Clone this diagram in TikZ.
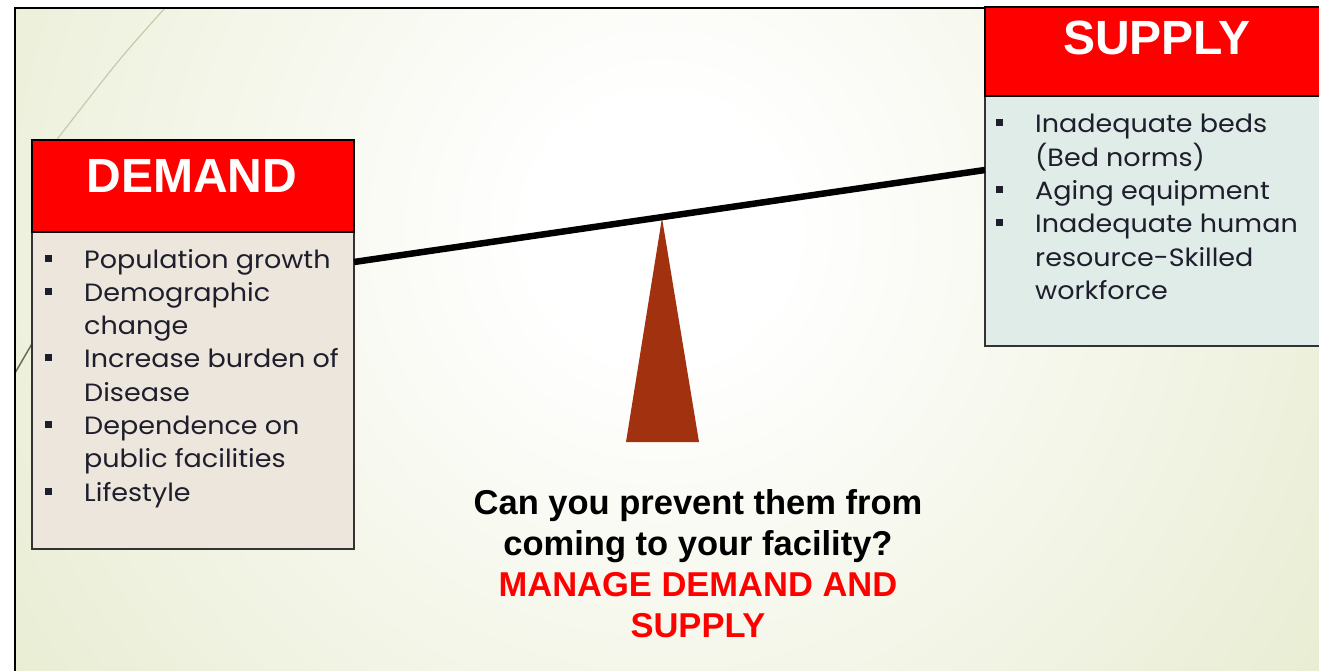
\documentclass[tikz,border=0pt]{standalone}
\usepackage{fontspec}
\setmainfont{Liberation Sans}
\newfontfamily\bodyfont[FakeStretch=1.08]{Poppins}
\usepackage{array}
\definecolor{bggreen}{HTML}{E0E6C2}
\definecolor{demandbody}{HTML}{EDE6DC}
\definecolor{supplybody}{HTML}{E0ECE7}
\definecolor{fulcrum}{HTML}{A2310F}
\definecolor{bodytext}{HTML}{1E1E2C}
\definecolor{arcfaint}{HTML}{C6CAAE}
\definecolor{arcdark}{HTML}{6E6C58}
\pgfdeclareradialshading{bgshade}{\pgfpoint{0bp}{0bp}}{color(0bp)=(white); color(3bp)=(white); color(25bp)=(bggreen); color(50bp)=(bggreen)}
\newcommand{\bul}{\rule[6.5pt]{6.5pt}{7pt}}
\tikzset{
  boxhead/.style={draw=black, line width=1.5pt, fill=red, anchor=north west, inner sep=0, outer sep=0},
  boxbody/.style={draw=black!80, line width=1.5pt, anchor=north west, inner sep=0, outer sep=0},
  headtext/.style={text=white, font=\bfseries\fontsize{48}{56}\selectfont, inner sep=0},
  listtext/.style={anchor=base west, inner sep=0, text=bodytext, font=\bodyfont\fontsize{25}{33.3}\selectfont},
  qtext/.style={align=center, font=\bfseries\fontsize{34.5}{40.7}\selectfont, inner sep=0}
}
\begin{document}
\begin{tikzpicture}[x=1pt,y=-1pt]
\useasboundingbox (0,0) rectangle (1319,671);
\fill[white] (0,0) rectangle (1319,671);
\begin{scope}
  \clip (15,8) rectangle (1319,671);
  \fill[bggreen] (15,8) rectangle (1319,671);
  \shade[shading=bgshade] (660,230) circle[radius=1050pt];
  \draw[arcfaint, line width=1.2pt] (165,8) .. controls (120,58) .. (55,142);
  \draw[arcdark, line width=1.5pt] (33,342) -- (15,373);
\end{scope}
\draw[black, line width=2pt] (15,671) -- (15,8) -- (1319,8);

% demand box
\node[boxbody, fill=demandbody, minimum width=322pt, minimum height=317pt] (db) at (32,232) {};
\node[boxhead, minimum width=322pt, minimum height=92pt] (dh) at (32,140) {};
\node[headtext] (dt) at (192,176) {DEMAND};
\node[listtext] (dl) at (45,268) {\begin{tabular}[t]{@{}p{39pt}@{}l@{}}
\bul & Population growth\\
\bul & Demographic\\
     & change\\
\bul & Increase burden of\\
     & Disease\\
\bul & Dependence on\\
     & public facilities\\
\bul & Lifestyle
\end{tabular}};

% supply box
\begin{scope}
\clip (0,0) rectangle (1319,671);
\node[boxbody, fill=supplybody, minimum width=345pt, minimum height=250pt] (sb) at (985,96) {};
\node[boxhead, minimum width=345pt, minimum height=89pt] (sh) at (985,7) {};
\end{scope}
\node[headtext] (st) at (1157,38) {SUPPLY};
\node[listtext] (sl) at (996,133) {\begin{tabular}[t]{@{}p{39pt}@{}l@{}}
\bul & Inadequate beds\\
     & (Bed norms)\\
\bul & Aging equipment\\
\bul & Inadequate human\\
     & resource-Skilled\\
     & workforce
\end{tabular}};

% see-saw
\coordinate (apex) at (662,218);
\coordinate (bl) at (626,442);
\coordinate (br) at (699,442);
\fill[fulcrum] (apex) -- (br) -- (bl) -- cycle;
\coordinate (beamL) at (db.north east |- 0,262);
\coordinate (beamR) at (sb.north west |- 0,170);
\draw[black, line width=6.5pt] (beamL) -- (beamR);

% question
\node[qtext, anchor=base] (q) at (698,637) {Can you prevent them from\\
coming to your facility?\\
\textcolor{red}{MANAGE DEMAND AND}\\
\textcolor{red}{SUPPLY}};
\end{tikzpicture}
\end{document}
